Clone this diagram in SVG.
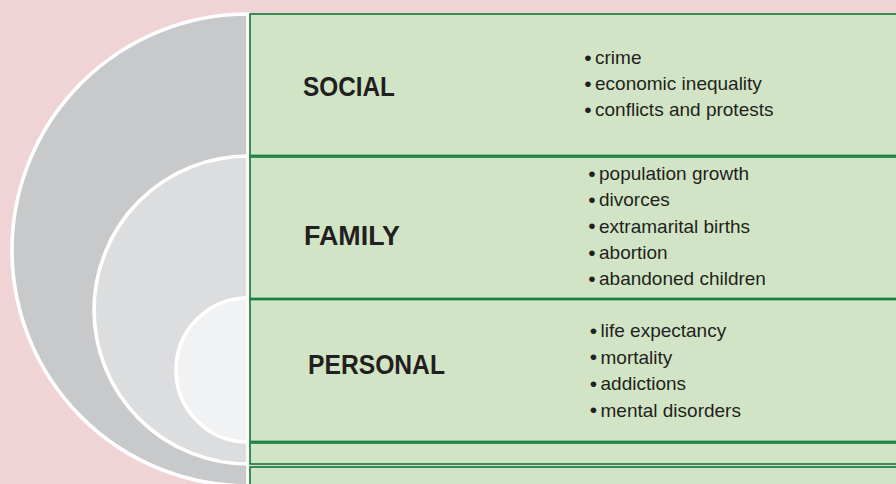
<svg xmlns="http://www.w3.org/2000/svg" width="896" height="484" viewBox="0 0 896 484">
<style>
.band{fill:#d1e5c6;stroke:#178040;stroke-width:1.7}
.arc{stroke:#ffffff;stroke-width:3.6}
.lbl{font-family:"Liberation Sans",Arial,sans-serif;font-weight:bold;font-size:27px;fill:#231f20}
.it{font-family:"Liberation Sans",Arial,sans-serif;font-size:19px;fill:#231f20}
.bu{font-family:"Liberation Sans",Arial,sans-serif;font-size:21px;fill:#231f20;text-anchor:middle}
</style>
<rect x="0" y="0" width="896" height="484" fill="#f0d4d5"/>
<g id="rings">
<path class="arc" d="M248,14 A236,236 0 0 0 248,486 Z" fill="#c8c9cb"/>
<path class="arc" d="M248,156 A154,154 0 0 0 248,464 Z" fill="#dcdddf"/>
<path class="arc" d="M248,298 A72,72 0 0 0 248,442 Z" fill="#f1f2f4"/>
</g>
<g id="social">
<rect class="band" x="250" y="14" width="660" height="141.5"/>
<text class="lbl" x="303" y="96" textLength="92" lengthAdjust="spacingAndGlyphs">SOCIAL</text>
<text class="bu" x="588" y="64.5">•</text><text class="it" x="595" y="64">crime</text>
<text class="bu" x="588" y="90.5">•</text><text class="it" x="595" y="90">economic inequality</text>
<text class="bu" x="588" y="116.5">•</text><text class="it" x="595" y="116">conflicts and protests</text>
</g>
<g id="family">
<rect class="band" x="250" y="157" width="660" height="141.5"/>
<text class="lbl" x="304" y="245" textLength="96" lengthAdjust="spacingAndGlyphs">FAMILY</text>
<text class="bu" x="592" y="180.5">•</text><text class="it" x="599" y="180">population growth</text>
<text class="bu" x="592" y="206.8">•</text><text class="it" x="599" y="206.3">divorces</text>
<text class="bu" x="592" y="233.1">•</text><text class="it" x="599" y="232.6">extramarital births</text>
<text class="bu" x="592" y="259.5">•</text><text class="it" x="599" y="259">abortion</text>
<text class="bu" x="592" y="285.8">•</text><text class="it" x="599" y="285.3">abandoned children</text>
</g>
<g id="personal">
<rect class="band" x="250" y="299.5" width="660" height="142"/>
<text class="lbl" x="308" y="374" textLength="137" lengthAdjust="spacingAndGlyphs">PERSONAL</text>
<text class="bu" x="593.5" y="337.5">•</text><text class="it" x="600.5" y="337">life expectancy</text>
<text class="bu" x="593.5" y="364">•</text><text class="it" x="600.5" y="363.5">mortality</text>
<text class="bu" x="593.5" y="390.5">•</text><text class="it" x="600.5" y="390">addictions</text>
<text class="bu" x="593.5" y="417">•</text><text class="it" x="600.5" y="416.5">mental disorders</text>
</g>
<g id="family-band-end">
<rect class="band" x="250" y="443" width="660" height="21"/>
</g>
<g id="social-band-end">
<rect class="band" x="250" y="467" width="660" height="40"/>
</g>
</svg>
